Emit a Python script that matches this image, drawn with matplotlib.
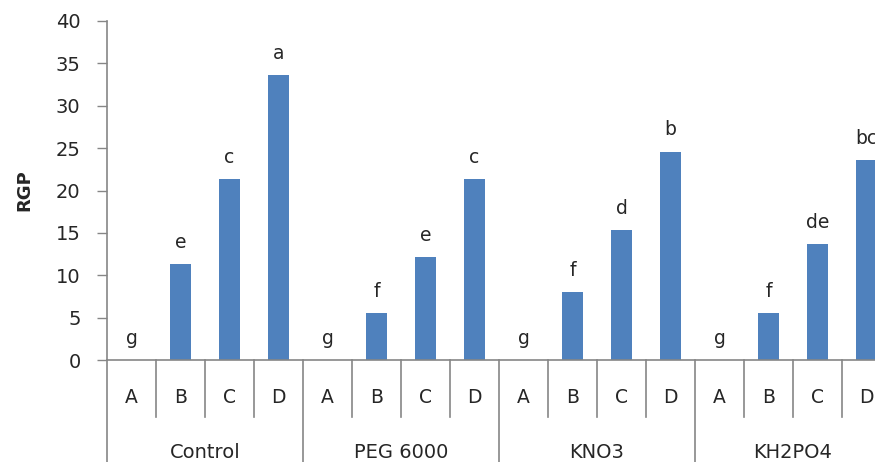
import matplotlib
matplotlib.use("Agg")
import matplotlib.pyplot as plt
import numpy as np

groups = ["Control", "PEG 6000", "KNO3", "KH2PO4"]
subcats = ["A", "B", "C", "D"]
values = {
    "Control": [0, 11.3, 21.4, 33.6],
    "PEG 6000": [0, 5.5, 12.1, 21.4],
    "KNO3": [0, 8.0, 15.3, 24.6],
    "KH2PO4": [0, 5.6, 13.7, 23.6],
}
letters = {
    "Control": ["g", "e", "c", "a"],
    "PEG 6000": ["g", "f", "e", "c"],
    "KNO3": ["g", "f", "d", "b"],
    "KH2PO4": ["g", "f", "de", "bc"],
}
yticks = [0, 5, 10, 15, 20, 25, 30, 35, 40]

W, H = 875, 462
fig = plt.figure(figsize=(W / 100, H / 100), dpi=100)
plt.rcParams['font.family'] = ['DejaVu Sans']
left, right, top, bottom = 107, 891, 21, 360
ax = fig.add_axes([left / W, (H - bottom) / H, (right - left) / W, (bottom - top) / H])

n = len(groups) * len(subcats)
xs = np.arange(n)
vals = [v for g in groups for v in values[g]]
labs = [l for g in groups for l in letters[g]]
sub_labels = [s for g in groups for s in subcats]

bar_color = "#4F81BD"
axis_color = "#868686"
text_color = "#262626"

ax.bar(xs, vals, width=0.41, color=bar_color, zorder=2)
for x, v, l in zip(xs, vals, labs):
    ax.annotate(l, (x, v), xytext=(0, 15.5), textcoords="offset points",
                ha="center", va="center", fontsize=13.5, color=text_color,
                annotation_clip=False)

ax.set_xlim(-0.5, n - 0.5)
ax.set_ylim(0, 40)
ax.set_yticks(yticks)
ax.tick_params(axis="y", length=7, width=1, color=axis_color, labelsize=14,
               labelcolor=text_color, pad=12)
ax.set_xticks(xs)
ax.set_xticklabels(sub_labels)
ax.tick_params(axis="x", length=0, labelsize=13.5, labelcolor=text_color, pad=20)
for s in ["top", "right"]:
    ax.spines[s].set_visible(False)
for s in ["left", "bottom"]:
    ax.spines[s].set_color(axis_color)
    ax.spines[s].set_linewidth(1.2)

ax_h = bottom - top
trans = ax.get_xaxis_transform()
ax.plot([-0.5, -0.5], [0, -(H - bottom + 5) / ax_h], transform=trans,
        color=axis_color, lw=1.2, clip_on=False)
for i in range(1, n):
    xb = i - 0.5
    if i % len(subcats) == 0:
        y2 = -(H - bottom + 5) / ax_h
    else:
        y2 = -57 / ax_h
    ax.plot([xb, xb], [0, y2], transform=trans, color=axis_color, lw=1.2,
            clip_on=False)

for gi, g in enumerate(groups):
    cx = gi * len(subcats) + (len(subcats) - 1) / 2
    ax.text(cx, -92 / ax_h, g, transform=trans, ha="center", va="center",
            fontsize=14, color=text_color, clip_on=False)

fig.text(24 / W, 1 - 190 / H, "RGP", rotation=90, ha="center", va="center",
         fontsize=13, fontweight="bold", color=text_color)

fig.savefig("out.png", dpi=100)
